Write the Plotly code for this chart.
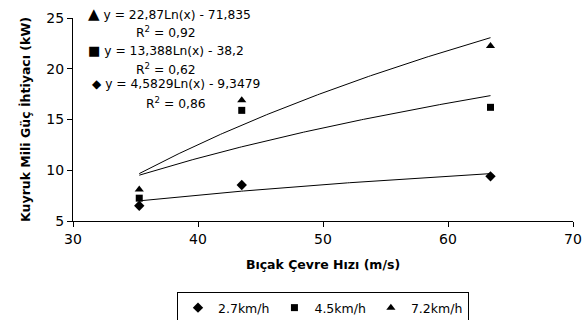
import numpy as np
import plotly.graph_objects as go

# Data
speed = [35.3, 43.5, 63.4]          # Bıçak çevre hızı (m/s)
power_27 = [6.5, 8.55, 9.4]         # 2.7 km/h
power_45 = [7.25, 15.9, 16.2]       # 4.5 km/h
power_72 = [8.1, 16.9, 22.25]       # 7.2 km/h
series_names = ["2.7km/h", "4.5km/h", "7.2km/h"]
symbols = ["diamond", "square", "triangle-up"]
symbol_chars = ["◆", "■", "▲"]
# Logarithmic trend line coefficients: y = a*Ln(x) + b
trend_a = [4.5829, 13.388, 22.87]
trend_b = [-9.3479, -38.2, -71.835]
eq_texts = ["y = 4,5829Ln(x) - 9,3479", "y = 13,388Ln(x) - 38,2", "y = 22,87Ln(x) - 71,835"]
r2_texts = ["0,86", "0,62", "0,92"]

x_ticks = [30, 40, 50, 60, 70]
y_ticks = [5, 10, 15, 20, 25]

FONT = "DejaVu Sans"
fig = go.Figure()

powers = [power_27, power_45, power_72]
sizes = [8, 7, 8]
for name, sym, ys, sz in zip(series_names, symbols, powers, sizes):
    fig.add_trace(go.Scatter(x=speed, y=ys, mode="markers", name=name,
                             marker=dict(symbol=sym, color="black", size=sz)))

xs = np.linspace(min(speed), max(speed), 200)
for a, b in zip(trend_a, trend_b):
    fig.add_trace(go.Scatter(x=xs, y=a * np.log(xs) + b, mode="lines",
                             line=dict(color="black", width=1), showlegend=False,
                             hoverinfo="skip"))

# Equation annotations (positions in paper coordinates)
eq_pos = [(0.034, 0.675), (0.026, 0.842), (0.026, 1.02)]
r2_pos = [(0.206, 0.581), (0.186, 0.749), (0.186, 0.931)]
sym_sizes = [12, 13, 15]
for ch, ss, eq, r2, (ex, ey), (rx, ry) in zip(symbol_chars, sym_sizes, eq_texts, r2_texts, eq_pos, r2_pos):
    fig.add_annotation(xref="paper", yref="paper", x=ex, y=ey, xanchor="left", yanchor="middle",
                       text=f'<span style="font-size:{ss}px">{ch}</span> {eq}', showarrow=False,
                       font=dict(family=FONT, size=12.3, color="black"))
    fig.add_annotation(xref="paper", yref="paper", x=rx, y=ry, xanchor="center", yanchor="middle",
                       text="R<sup>2</sup> = " + r2, showarrow=False,
                       font=dict(family=FONT, size=12.3, color="black"))

fig.update_layout(
    width=585, height=320,
    margin=dict(l=73, r=12, t=18, b=99, autoexpand=False),
    paper_bgcolor="white", plot_bgcolor="white",
    font=dict(family=FONT, color="black", size=13),
    showlegend=True,
    legend=dict(orientation="h", x=0.5, xanchor="center",
                yref="container", y=0.0875, yanchor="top",
                bordercolor="black", borderwidth=1, font=dict(size=12.5, family=FONT),
                itemwidth=30),
    xaxis=dict(range=[30, 70], tickvals=x_ticks, ticks="outside", ticklen=5,
               tickcolor="black", showline=True, linecolor="black", linewidth=1,
               showgrid=False, zeroline=False, automargin=False,
               tickfont=dict(size=14, family=FONT),
               title=dict(text="<b>Bıçak Çevre Hızı (m/s)</b>", standoff=14,
                          font=dict(size=12.5, family=FONT))),
    yaxis=dict(range=[5, 25], tickvals=y_ticks, ticks="outside", ticklen=5,
               tickcolor="black", showline=True, linecolor="black", linewidth=1,
               showgrid=False, zeroline=False, automargin=False,
               tickfont=dict(size=14, family=FONT),
               title=dict(text="<b>Kuyruk Mili Güç İhtiyacı (kW)</b>", standoff=12,
                          font=dict(size=12.5, family=FONT))),
)

fig.write_html("out.html", config={"displayModeBar": False},
               post_script="document.body.style.margin='0';")
